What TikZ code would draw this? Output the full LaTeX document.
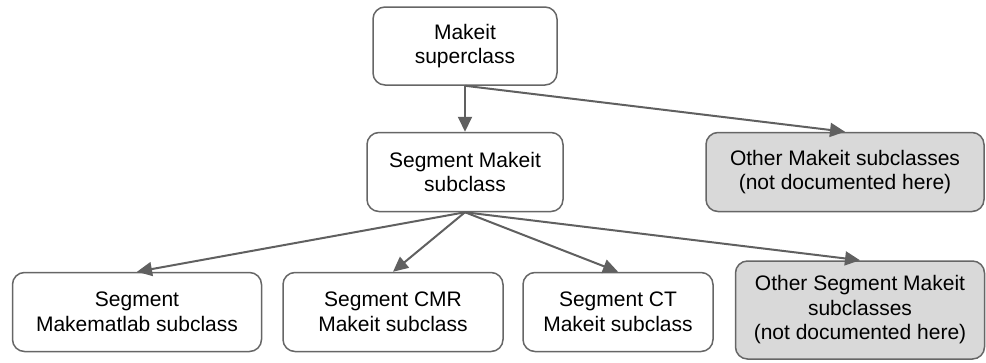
\documentclass[tikz,border=0pt]{standalone}
\usepackage{fontspec}
\setmainfont{Liberation Sans}
\usetikzlibrary{arrows.meta}
\definecolor{lineclr}{HTML}{606060}
\definecolor{boxline}{HTML}{666666}
\definecolor{boxfill}{HTML}{D9D9D9}
\begin{document}
\begin{tikzpicture}[x=1pt,y=-1pt,
 box/.style={draw=boxline, line width=1.5pt, rounded corners=12pt, fill=white, align=center,
   font=\fontsize{21}{24.5}\selectfont, inner sep=0pt, text=black},
 greybox/.style={box, fill=boxfill},
 conn/.style={draw=lineclr, line width=2pt, -{Triangle[length=15pt,width=14pt]}}]
\useasboundingbox (0,0) rectangle (986,362);
\node[box, minimum width=184pt, minimum height=78pt] (top) at (465,46) {Makeit\\superclass};
\node[box, minimum width=196pt, minimum height=79pt] (seg) at (465,172) {Segment Makeit\\subclass};
\node[greybox, minimum width=278pt, minimum height=79pt] (oth) at (845,172) {Other Makeit subclasses\\(not documented here)};
\node[box, minimum width=249pt, minimum height=79pt] (mml) at (137,312) {Segment\\Makematlab subclass};
\node[box, minimum width=220pt, minimum height=79pt] (cmr) at (393,312) {Segment CMR\\Makeit subclass};
\node[box, minimum width=190pt, minimum height=79pt] (ct) at (618,312) {Segment CT\\Makeit subclass};
\node[greybox, minimum width=249pt, minimum height=98pt] (oseg) at (860,310) {Other Segment Makeit\\subclasses\\(not documented here)};
\draw[conn] (top.south) -- (seg.north);
\draw[conn] (top.south) -- (oth.north);
\draw[conn] (seg.south) -- (mml.north);
\draw[conn] (seg.south) -- (cmr.north);
\draw[conn] (seg.south) -- (ct.north);
\draw[conn] (seg.south) -- (oseg.north);
\end{tikzpicture}
\end{document}
